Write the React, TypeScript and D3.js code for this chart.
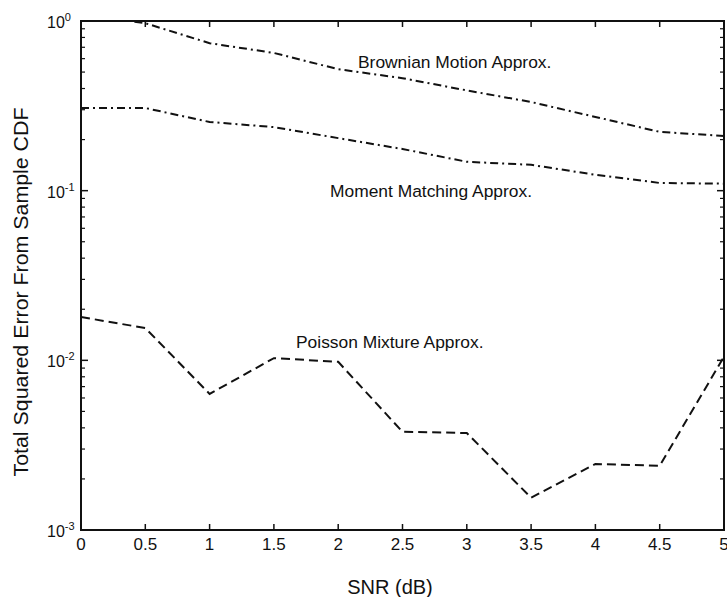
import React from "react";
import * as d3 from "d3";

const snr = [0, 0.5, 1, 1.5, 2, 2.5, 3, 3.5, 4, 4.5, 5];
const brownian = [1.1, 0.97, 0.74, 0.648, 0.52, 0.46, 0.39, 0.333, 0.272, 0.222, 0.21];
const moment = [0.307, 0.307, 0.254, 0.237, 0.204, 0.176, 0.148, 0.142, 0.124, 0.111, 0.11];
const poisson = [0.018, 0.0155, 0.00634, 0.0103, 0.0098, 0.00379, 0.00373, 0.00155, 0.00245, 0.00239, 0.0105];
const xTicks = [0, 0.5, 1, 1.5, 2, 2.5, 3, 3.5, 4, 4.5, 5];
const xTickLabels = ["0", "0.5", "1", "1.5", "2", "2.5", "3", "3.5", "4", "4.5", "5"];
const yDecades = [0, -1, -2, -3];
const seriesLabels = ["Brownian Motion Approx.", "Moment Matching Approx.", "Poisson Mixture Approx."];
const xTitle = "SNR (dB)";
const yTitle = "Total Squared Error From Sample CDF";

const W = 727, H = 597;
const L = 81, R = 724, T = 21, B = 530;
const FONT = "'Liberation Sans', Arial, Helvetica, sans-serif";
const NARROW = "'Liberation Sans Narrow', 'Liberation Sans', Arial, sans-serif";

export default function App() {
  const x = d3.scaleLinear().domain([0, 5]).range([L, R]);
  const y = d3.scaleLog().domain([1e-3, 1]).range([B, T]);
  const line = d3.line<number>().x((_, i) => x(snr[i])).y((d) => y(d));

  const minor: number[] = [];
  for (let e = -3; e < 0; e++) for (let m = 2; m <= 9; m++) minor.push(m * Math.pow(10, e));

  const dashDot = "8,4,2,4";
  const dashed = "9,5";

  return (
    <svg width={W} height={H} style={{ position: "absolute", left: 0, top: 0, background: "#fff" }} fontFamily={FONT}>
      <defs>
        <clipPath id="plot">
          <rect x={L} y={T} width={R - L} height={B - T} />
        </clipPath>
      </defs>
      <rect x={0} y={0} width={W} height={H} fill="#fff" />
      {/* series */}
      <g clipPath="url(#plot)" fill="none" stroke="#111" strokeWidth={2}>
        <path d={line(brownian) || ""} strokeDasharray={dashDot} />
        <path d={line(moment) || ""} strokeDasharray={dashDot} />
        <path d={line(poisson) || ""} strokeDasharray={dashed} />
      </g>
      {/* frame */}
      <rect x={L} y={T} width={R - L} height={B - T} fill="none" stroke="#111" strokeWidth={2} />
      {/* x ticks */}
      {xTicks.map((t, i) => (
        <g key={"xt" + i}>
          <line x1={x(t)} x2={x(t)} y1={B} y2={B - 6} stroke="#111" strokeWidth={1.5} />
          <line x1={x(t)} x2={x(t)} y1={T} y2={T + 6} stroke="#111" strokeWidth={1.5} />
          <text x={x(t)} y={B + 20} fontSize={17} textAnchor="middle" fill="#111">{xTickLabels[i]}</text>
        </g>
      ))}
      {/* y ticks */}
      {yDecades.map((e) => (
        <g key={"yd" + e}>
          <line x1={L} x2={L + 7} y1={y(Math.pow(10, e))} y2={y(Math.pow(10, e))} stroke="#111" strokeWidth={1.5} />
          <line x1={R} x2={R - 7} y1={y(Math.pow(10, e))} y2={y(Math.pow(10, e))} stroke="#111" strokeWidth={1.5} />
          <text x={47} y={y(Math.pow(10, e)) + 7} fontSize={16} textAnchor="start" fill="#111">
            10<tspan dy={-7} fontSize={11}>{e}</tspan>
          </text>
        </g>
      ))}
      {minor.map((v, i) => (
        <g key={"ym" + i}>
          <line x1={L} x2={L + 4} y1={y(v)} y2={y(v)} stroke="#111" strokeWidth={1.2} />
          <line x1={R} x2={R - 4} y1={y(v)} y2={y(v)} stroke="#111" strokeWidth={1.2} />
        </g>
      ))}
      {/* series labels */}
      <text x={358} y={68} fontSize={17.4} fill="#111">{seriesLabels[0]}</text>
      <text x={330} y={197} fontSize={17.4} fill="#111">{seriesLabels[1]}</text>
      <text x={296} y={348} fontSize={17.4} fill="#111">{seriesLabels[2]}</text>
      {/* axis titles */}
      <text x={390} y={594} fontSize={20} textAnchor="middle" fill="#111">{xTitle}</text>
      <text transform={`translate(28, 292) rotate(-90)`} fontFamily={NARROW} fontSize={20} textAnchor="middle"
        textLength={369} lengthAdjust="spacingAndGlyphs" fill="#111">{yTitle}</text>
    </svg>
  );
}
